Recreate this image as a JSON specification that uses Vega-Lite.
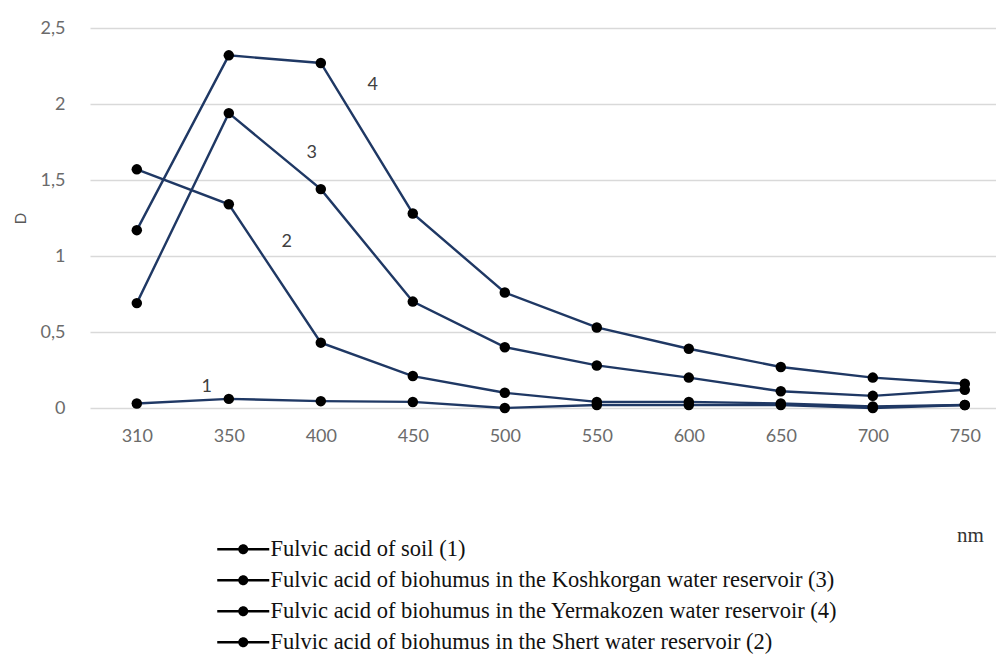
{
  "$schema": "https://vega.github.io/schema/vega-lite/v6.json",
  "autosize": "none",
  "width": 906,
  "height": 380,
  "padding": {"left": 90, "top": 28, "right": 0, "bottom": 247},
  "background": "white",
  "config": {
    "view": {"stroke": null},
    "axis": {"labelFont": "Lato", "labelFontSize": 18, "labelColor": "#6b6b6b", "tickSize": 0, "ticks": false, "domain": false}
  },
  "data": {
    "values": [
      {"series": "Fulvic acid of soil (1)", "wl": "310", "D": 0.03},
      {"series": "Fulvic acid of soil (1)", "wl": "350", "D": 0.06},
      {"series": "Fulvic acid of soil (1)", "wl": "400", "D": 0.045},
      {"series": "Fulvic acid of soil (1)", "wl": "450", "D": 0.04},
      {"series": "Fulvic acid of soil (1)", "wl": "500", "D": 0.0},
      {"series": "Fulvic acid of soil (1)", "wl": "550", "D": 0.02},
      {"series": "Fulvic acid of soil (1)", "wl": "600", "D": 0.02},
      {"series": "Fulvic acid of soil (1)", "wl": "650", "D": 0.02},
      {"series": "Fulvic acid of soil (1)", "wl": "700", "D": 0.0},
      {"series": "Fulvic acid of soil (1)", "wl": "750", "D": 0.02},
      {"series": "Fulvic acid of  biohumus in the Koshkorgan water reservoir (3)", "wl": "310", "D": 0.69},
      {"series": "Fulvic acid of  biohumus in the Koshkorgan water reservoir (3)", "wl": "350", "D": 1.94},
      {"series": "Fulvic acid of  biohumus in the Koshkorgan water reservoir (3)", "wl": "400", "D": 1.44},
      {"series": "Fulvic acid of  biohumus in the Koshkorgan water reservoir (3)", "wl": "450", "D": 0.7},
      {"series": "Fulvic acid of  biohumus in the Koshkorgan water reservoir (3)", "wl": "500", "D": 0.4},
      {"series": "Fulvic acid of  biohumus in the Koshkorgan water reservoir (3)", "wl": "550", "D": 0.28},
      {"series": "Fulvic acid of  biohumus in the Koshkorgan water reservoir (3)", "wl": "600", "D": 0.2},
      {"series": "Fulvic acid of  biohumus in the Koshkorgan water reservoir (3)", "wl": "650", "D": 0.11},
      {"series": "Fulvic acid of  biohumus in the Koshkorgan water reservoir (3)", "wl": "700", "D": 0.08},
      {"series": "Fulvic acid of  biohumus in the Koshkorgan water reservoir (3)", "wl": "750", "D": 0.12},
      {"series": "Fulvic acid of  biohumus in the Yermakozen  water reservoir (4)", "wl": "310", "D": 1.17},
      {"series": "Fulvic acid of  biohumus in the Yermakozen  water reservoir (4)", "wl": "350", "D": 2.32},
      {"series": "Fulvic acid of  biohumus in the Yermakozen  water reservoir (4)", "wl": "400", "D": 2.27},
      {"series": "Fulvic acid of  biohumus in the Yermakozen  water reservoir (4)", "wl": "450", "D": 1.28},
      {"series": "Fulvic acid of  biohumus in the Yermakozen  water reservoir (4)", "wl": "500", "D": 0.76},
      {"series": "Fulvic acid of  biohumus in the Yermakozen  water reservoir (4)", "wl": "550", "D": 0.53},
      {"series": "Fulvic acid of  biohumus in the Yermakozen  water reservoir (4)", "wl": "600", "D": 0.39},
      {"series": "Fulvic acid of  biohumus in the Yermakozen  water reservoir (4)", "wl": "650", "D": 0.27},
      {"series": "Fulvic acid of  biohumus in the Yermakozen  water reservoir (4)", "wl": "700", "D": 0.2},
      {"series": "Fulvic acid of  biohumus in the Yermakozen  water reservoir (4)", "wl": "750", "D": 0.16},
      {"series": "Fulvic acid of  biohumus in the Shert water reservoir (2)", "wl": "310", "D": 1.57},
      {"series": "Fulvic acid of  biohumus in the Shert water reservoir (2)", "wl": "350", "D": 1.34},
      {"series": "Fulvic acid of  biohumus in the Shert water reservoir (2)", "wl": "400", "D": 0.43},
      {"series": "Fulvic acid of  biohumus in the Shert water reservoir (2)", "wl": "450", "D": 0.21},
      {"series": "Fulvic acid of  biohumus in the Shert water reservoir (2)", "wl": "500", "D": 0.1},
      {"series": "Fulvic acid of  biohumus in the Shert water reservoir (2)", "wl": "550", "D": 0.04},
      {"series": "Fulvic acid of  biohumus in the Shert water reservoir (2)", "wl": "600", "D": 0.04},
      {"series": "Fulvic acid of  biohumus in the Shert water reservoir (2)", "wl": "650", "D": 0.03},
      {"series": "Fulvic acid of  biohumus in the Shert water reservoir (2)", "wl": "700", "D": 0.01},
      {"series": "Fulvic acid of  biohumus in the Shert water reservoir (2)", "wl": "750", "D": 0.02}
    ]
  },
  "encoding": {
    "x": {
      "field": "wl", "type": "ordinal", "sort": null,
      "scale": {"type": "point", "padding": 0.424, "align": 0.6},
      "axis": {"labelAngle": 0, "labelPadding": 19, "grid": false, "title": "nm", "titleFont": "Liberation Serif", "titleFontSize": 21, "titleFontWeight": "normal", "titleColor": "#333333", "titleX": 880, "titleY": 127, "titleBaseline": "middle"}
    },
    "y": {
      "field": "D", "type": "quantitative",
      "scale": {"domain": [0, 2.5], "nice": false, "zero": true},
      "axis": {"values": [0, 0.5, 1, 1.5, 2, 2.5], "labelExpr": "replace(toString(datum.value), '.', ',')", "labelPadding": 25, "grid": true, "gridColor": "#d9d9d9", "gridWidth": 1.5, "title": "D", "titleFont": "Lato", "titleFontSize": 15, "titleFontWeight": "normal", "titleColor": "#595959", "titleX": -70, "titleY": 190, "titleBaseline": "middle"}
    }
  },
  "layer": [
    {
      "mark": {"type": "line", "color": "#1f3864", "strokeWidth": 2.4},
      "encoding": {"detail": {"field": "series"}}
    },
    {
      "mark": {"type": "point", "filled": true, "opacity": 1, "size": 110},
      "encoding": {
        "color": {
          "field": "series", "type": "nominal",
          "scale": {
            "domain": [
              "Fulvic acid of soil (1)",
              "Fulvic acid of  biohumus in the Koshkorgan water reservoir (3)",
              "Fulvic acid of  biohumus in the Yermakozen  water reservoir (4)",
              "Fulvic acid of  biohumus in the Shert water reservoir (2)"
            ],
            "range": ["#000000", "#000000", "#000000", "#000000"]
          },
          "legend": {
            "orient": "none", "legendX": 142, "legendY": 510, "title": null, "padding": 0,
            "symbolType": "M-2.6,-0.125H2.6V0.125H-2.6Z M-0.5,0A0.5,0.5 0 1,1 0.5,0A0.5,0.5 0 1,1 -0.5,0Z",
            "symbolSize": 400, "symbolStrokeWidth": 0, "symbolOpacity": 1,
            "labelFont": "Liberation Serif", "labelFontSize": 22.5, "labelColor": "#111111", "labelLimit": 0,
            "labelOffset": 16, "rowPadding": 8
          }
        }
      }
    },
    {
      "data": {"values": [{"lab": "1", "wl": "350", "D": 0.14}]},
      "mark": {"type": "text", "dx": -22, "font": "Lato", "fontSize": 18, "color": "#404040", "baseline": "middle"},
      "encoding": {"text": {"field": "lab"}}
    },
    {
      "data": {"values": [{"lab": "2", "wl": "350", "D": 1.09}]},
      "mark": {"type": "text", "dx": 58, "font": "Lato", "fontSize": 18, "color": "#404040", "baseline": "middle"},
      "encoding": {"text": {"field": "lab"}}
    },
    {
      "data": {"values": [{"lab": "3", "wl": "400", "D": 1.68}]},
      "mark": {"type": "text", "dx": -9, "font": "Lato", "fontSize": 18, "color": "#404040", "baseline": "middle"},
      "encoding": {"text": {"field": "lab"}}
    },
    {
      "data": {"values": [{"lab": "4", "wl": "400", "D": 2.125}]},
      "mark": {"type": "text", "dx": 52, "font": "Lato", "fontSize": 18, "color": "#404040", "baseline": "middle"},
      "encoding": {"text": {"field": "lab"}}
    }
  ]
}
